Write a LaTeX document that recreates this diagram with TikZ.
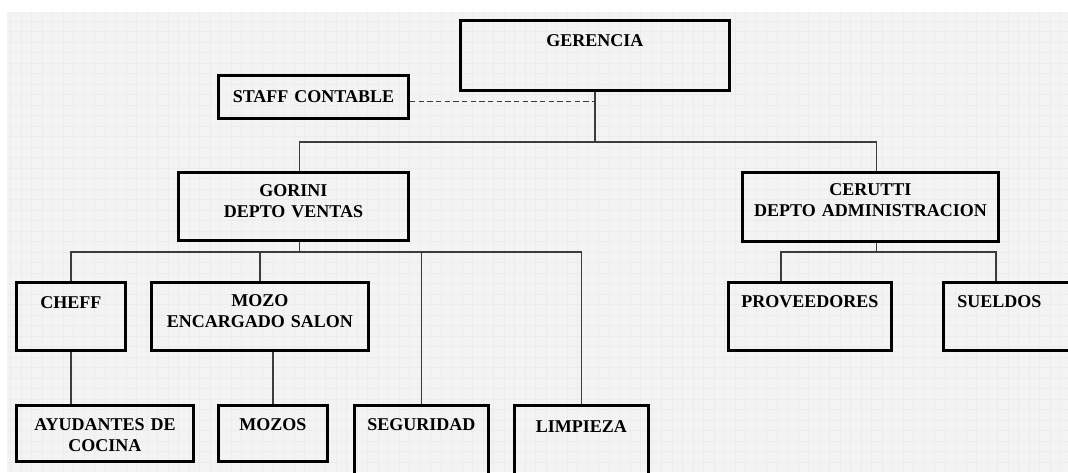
\documentclass[tikz,border=0pt]{standalone}
\usepackage{fontspec}
\setmainfont{Liberation Serif}
\usetikzlibrary{positioning}
\definecolor{bgcol}{HTML}{F3F3F3}
\definecolor{gridcol}{HTML}{ECECEC}
\definecolor{linecol}{HTML}{3C3C3C}
\begin{document}
\begin{tikzpicture}[x=0.75pt, y=-0.75pt,
    unit/.style={draw, line width=2.2pt, anchor=north west, align=center,
        inner sep=0pt, font=\bfseries\fontsize{13.5}{15.75}\selectfont},
    link/.style={draw=linecol, line width=1.1pt}]
            \useasboundingbox (0,0) rectangle (1068,472);
            \clip (0,0) rectangle (1068,472);
            % background
            \fill[bgcol] (7,12) rectangle (1068,472);
            \draw[gridcol, line width=0.4pt, step=7.875pt] (7,12) grid (1068,472);
            % nodes
            \node (ger) [unit, text width=201.75pt, text height=19.3pt, text depth=33.2pt] at (459,19) {GERENCIA};
            \node (staff) [unit, text width=142.5pt, text height=20pt, text depth=12.2pt] at (217,74) {STAFF CONTABLE};
            \node (gor) [unit, text width=172.5pt, text height=17.8pt, text depth=33.2pt] at (177,171) {GORINI\\DEPTO VENTAS};
            \node (cer) [unit, text width=192pt, text height=17pt, text depth=34.7pt] at (741,171) {CERUTTI\\DEPTO ADMINISTRACION};
            \node (cheff) [unit, text width=81.75pt, text height=19.3pt, text depth=31.7pt] at (15,281) {CHEFF};
            \node (mozo) [unit, text width=162.75pt, text height=17.8pt, text depth=33.2pt] at (150,281) {MOZO\\ENCARGADO SALON};
            \node (ayud) [unit, text width=132.75pt, text height=18.5pt, text depth=23.5pt] at (15,404) {AYUDANTES DE\\COCINA};
            \node (mozos) [unit, text width=81.75pt, text height=18.5pt, text depth=23.5pt] at (217,404) {MOZOS};
            \node (segur) [unit, text width=100.5pt, text height=18.5pt, text depth=46pt] at (353,404) {SEGURIDAD};
            \node (limp) [unit, text width=100.5pt, text height=20pt, text depth=44.5pt] at (513,404) {LIMPIEZA};
            \node (prov) [unit, text width=122.25pt, text height=18.5pt, text depth=32.5pt] at (727,281) {PROVEEDORES};
            \node (sueld) [unit, inner xsep=10.5pt, text width=82.5pt, align=left, text height=18.5pt, text depth=32.5pt] at (942,281) {SUELDOS};
            % levels and drop points
            \coordinate (lvA) at (0,142);
            \coordinate (lvB) at (0,252);
            \coordinate (gorTop) at ([xshift=4.5pt]gor.north);
            \coordinate (gorBot) at ([xshift=4.5pt]gor.south);
            \coordinate (cerTop) at ([xshift=4.5pt]cer.north);
            \coordinate (cerBot) at ([xshift=4.5pt]cer.south);
            \coordinate (provTop) at ([xshift=40.5pt]prov.north west);
            \coordinate (sueldTop) at ([xshift=40.5pt]sueld.north west);
            \coordinate (staffEnd) at ([yshift=-3.4pt]staff.east);
            % lines
            \draw[link] (ger.south) -- (ger.south |- lvA);
            \draw[link, dash pattern=on 4pt off 2.5pt] (staffEnd) -- (staffEnd -| ger.south);
            \draw[link] (gorTop) |- (ger.south |- lvA) -| (cerTop);
            \draw[link] (gorBot) -- (gorBot |- lvB);
            \draw[link] (cheff.north) |- (gorBot |- lvB) -| (limp.north);
            \draw[link] (mozo.north) -- (mozo.north |- lvB);
            \draw[link] (segur.north) -- (segur.north |- lvB);
            \draw[link] (cheff.south) -- (cheff.south |- ayud.north);
            \draw[link] (mozos.north) -- (mozos.north |- mozo.south);
            \draw[link] (cerBot) -- (cerBot |- lvB);
            \draw[link] (provTop) |- (cerBot |- lvB) -| (sueldTop);
        \end{tikzpicture}
\end{document}
